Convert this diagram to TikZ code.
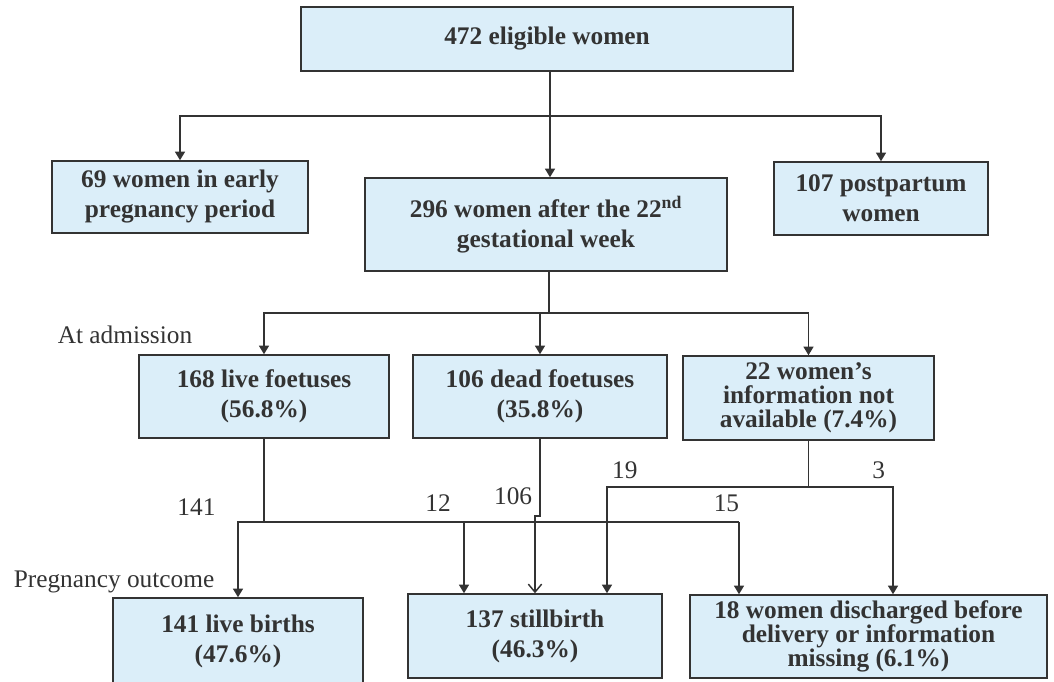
\documentclass[tikz,border=0pt]{standalone}
\usepackage{fontspec}
\setmainfont{Liberation Serif}
\usetikzlibrary{arrows.meta,positioning}
\definecolor{boxblue}{RGB}{219,238,249}
\definecolor{ink}{RGB}{51,51,51}

\begin{document}
\begin{tikzpicture}[x=0.75pt,y=-0.75pt,
box/.style={draw=ink,fill=boxblue,line width=1.1pt,align=center,text=ink,inner sep=0pt,
  font=\fontsize{19}{22.5}\selectfont\bfseries},
tight/.style={font=\fontsize{19}{18}\selectfont\bfseries},
lbl/.style={text=ink,font=\fontsize{19}{22}\selectfont},
ln/.style={draw=ink,line width=1.1pt},
arr/.style={ln,-{Triangle[length=6.5pt,width=7.5pt]}},
oarr/.style={ln,-{Straight Barb[length=6pt,width=10pt]}}]
\useasboundingbox (0,0) rectangle (1054,682);
\node[box,minimum width=369pt,minimum height=48pt] (top) at (547,39) {472 eligible women};
\node[box,minimum width=192pt,minimum height=54pt] (early) at (180,197) {69 women in early\\pregnancy period};
\node[box,minimum width=271.5pt,minimum height=69.75pt] (after) at (546,224.5) {296 women after the 22\textsuperscript{nd}\\gestational week};
\node[box,minimum width=160.5pt,minimum height=54.75pt] (post) at (881,198.5) {107 postpartum\\women};
\node[box,minimum width=187.5pt,minimum height=62.25pt] (live) at (264,396.5) {168 live foetuses\\(56.8\%)};
\node[box,minimum width=190.5pt,minimum height=62.25pt] (dead) at (540,396.5) {106 dead foetuses\\(35.8\%)};
\node[box,tight,minimum width=188.25pt,minimum height=63pt] (na) at (808.5,398) {22 women’s\\information not\\available (7.4\%)};
\node[box,minimum width=187.5pt,minimum height=64.5pt] (births) at (238,641) {141 live births\\(47.6\%)};
\node[box,minimum width=190.5pt,minimum height=63pt] (still) at (535,636) {137 stillbirth\\(46.3\%)};
\node[box,tight,minimum width=267.75pt,minimum height=62.25pt] (disch) at (868.5,636.5) {18 women discharged before\\delivery or information\\missing (6.1\%)};
\node[lbl] (adm) at (125,335) {At admission};
\node[lbl] (outc) at (114,582) {Pregnancy outcome};
% split points
\coordinate (s1) at (550,116);
\coordinate (s2) at (549,313);
\coordinate (j1) at (264,522);
\coordinate (c12) at (464,522);
\coordinate (c15) at (739,522);
\coordinate (d1) at (540,516);
\coordinate (c22) at (808.5,487);
\coordinate (c19) at (607,487);
\coordinate (c3) at (893,487);
% eligible women
\draw[ln,line width=2.2pt] (top.south -| s1) -- (s1);
\draw[arr] (s1) -| (early.north);
\draw[arr] (s1) -- (s1 |- after.north);
\draw[arr] (s1) -| (post.north);
% at admission
\draw[ln] (after.south -| s2) -- (s2);
\draw[arr] (s2) -| (live.north);
\draw[arr] (s2) -| (dead.north);
\draw[arr] (s2) -| (na.north);
% outcomes
\draw[ln] (live.south) -- (j1) -- (c15);
\draw[arr] (j1) -| node[lbl,pos=0.5,above left=1pt and 13pt] {141} (births.north);
\draw[arr] (c12) -- node[lbl,pos=0,above left=4pt and 6pt] {12} (c12 |- still.north);
\draw[arr] (c15) -- node[lbl,pos=0,above left=4pt and -4pt] {15} (c15 |- disch.north);
\draw[oarr] (dead.south) -- node[lbl,pos=0.75,left=2pt] {106} (d1) -| (still.north);
\draw[ln] (na.south) -- (c22);
\draw[arr] (c22) -- (c19) -- node[lbl,pos=0,above right=2pt and 0pt] {19} (c19 |- still.north);
\draw[arr] (c22) -- (c3) -- node[lbl,pos=0,above left=2pt and 2pt] {3} (c3 |- disch.north);
\end{tikzpicture}
\end{document}
